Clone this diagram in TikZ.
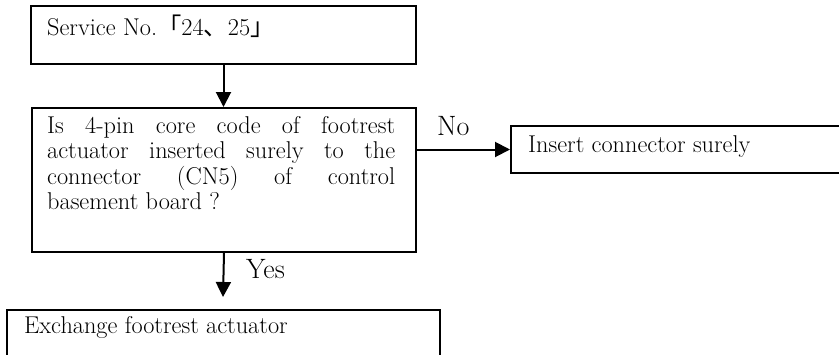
\documentclass[tikz,border=0pt]{standalone}
\usepackage{fontspec}
\newfontfamily\cjk{Noto Sans CJK JP}
\usetikzlibrary{arrows.meta}
\begin{document}
\begin{tikzpicture}[x=1pt,y=-1pt,
  box/.style={draw, line width=2pt, rectangle, inner sep=0pt, anchor=north west},
  txt/.style={inner sep=0pt, anchor=base west, font=\fontsize{24.3}{25.5}\selectfont},
  lbl/.style={inner sep=0pt, anchor=base west, font=\fontsize{28}{30}\selectfont},
  arr/.style={line width=2pt, -{Triangle[length=15pt,width=15pt]}}]
\useasboundingbox (0,0) rectangle (839,354);
\clip (0,0) rectangle (839,354);
\node[box, minimum width=385pt, minimum height=58pt] (b1) at (30,5) {};
\node[txt] (t1) at (47,35) {Service No.{\cjk 「}24{\cjk 、}25{\cjk 」}};
\node[box, minimum width=384pt, minimum height=144pt] (b2) at (31,107) {};
\node[txt, text width=348pt, align=justify] (t2) at (47,133) {Is 4-pin core code of footrest\linebreak actuator inserted surely to the\linebreak connector (CN5) of control\linebreak basement board ?};
\node[box, minimum width=360pt, minimum height=47pt] (b3) at (510,125) {};
\node[txt] (t3) at (528,152) {Insert connector surely};
\node[box, minimum width=433pt, minimum height=80pt] (b4) at (6,309) {};
\node[txt] (t4) at (24,333) {Exchange footrest actuator};
\coordinate (yesend) at (223,297);
\draw[arr] (b1.south) -- (b1.south |- b2.north);
\draw[arr] (b3.west -| b2.east) -- (b3.west);
\draw[arr] (b2.south) -- (yesend);
\node[lbl] (no) at (437,135) {No};
\node[lbl] (yes) at (246,278) {Yes};
\end{tikzpicture}
\end{document}
